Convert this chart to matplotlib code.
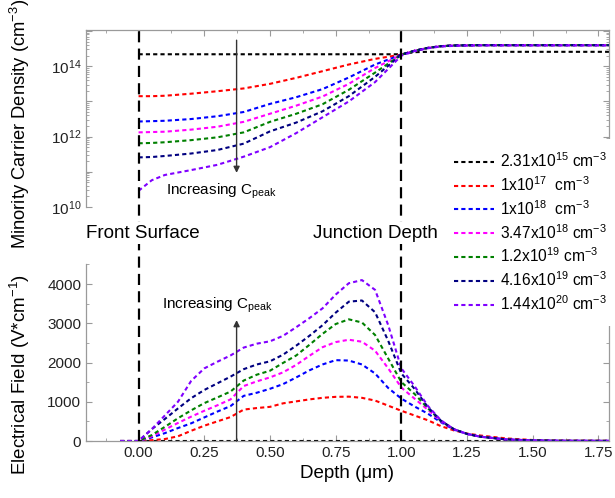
import matplotlib
matplotlib.use("Agg")
import matplotlib.pyplot as plt
from matplotlib.ticker import FixedLocator, FuncFormatter, MultipleLocator, NullFormatter
import numpy as np

plt.rcParams['font.family'] = ['Liberation Sans', 'DejaVu Sans']
plt.rcParams['mathtext.fontset'] = 'custom'
plt.rcParams['mathtext.rm'] = 'Liberation Sans'
plt.rcParams['mathtext.it'] = 'Liberation Sans:italic'
plt.rcParams['mathtext.default'] = 'regular'

# ---------------- data ----------------
labels = [r'2.31x10$^{15}$ cm$^{-3}$', r'1x10$^{17}$  cm$^{-3}$', r'1x10$^{18}$  cm$^{-3}$',
          r'3.47x10$^{18}$ cm$^{-3}$', r'1.2x10$^{19}$ cm$^{-3}$', r'4.16x10$^{19}$ cm$^{-3}$',
          r'1.44x10$^{20}$ cm$^{-3}$']
colors = ['black', '#ff0000', '#0000ff', '#ff00ff', '#008000', '#000080', '#8000ff']

# top panel: minority carrier density (cm^-3)
depth_top = [0, 0.05, 0.1, 0.2, 0.3, 0.4, 0.5, 0.6, 0.7, 0.8, 0.9, 1.0,
             1.05, 1.1, 1.15, 1.2, 1.3, 1.5, 1.79]
dens_black = [2.19e14, 2.19e14, 2.19e14, 2.19e14, 2.19e14, 2.19e14, 2.19e14, 2.19e14, 2.19e14,
              2.19e14, 2.19e14, 2.19e14, 2.51e14, 2.57e14, 2.57e14, 2.57e14, 2.57e14, 2.57e14, 2.57e14]
dens_red = [1.41e13, 1.41e13, 1.45e13, 1.66e13, 1.95e13, 2.34e13, 3.16e13, 4.68e13, 7.24e13,
            1.12e14, 1.62e14, 2.14e14, 2.75e14, 3.31e14, 3.72e14, 3.89e14, 3.98e14, 3.98e14, 3.98e14]
dens_blue = [2.69e12, 2.75e12, 2.82e12, 3.16e12, 3.80e12, 5.01e12, 8.51e12, 1.32e13, 2.24e13,
             4.79e13, 1.12e14, 2.14e14, 2.75e14, 3.31e14, 3.72e14, 3.89e14, 3.98e14, 3.98e14, 3.98e14]
dens_magenta = [1.32e12, 1.35e12, 1.38e12, 1.58e12, 1.91e12, 2.63e12, 4.47e12, 7.59e12, 1.38e13,
                3.16e13, 8.91e13, 2.14e14, 2.75e14, 3.31e14, 3.72e14, 3.89e14, 3.98e14, 3.98e14, 3.98e14]
dens_green = [6.46e11, 6.61e11, 6.92e11, 7.94e11, 9.55e11, 1.32e12, 2.63e12, 4.47e12, 8.32e12,
              2.14e13, 6.61e13, 2.14e14, 2.75e14, 3.31e14, 3.72e14, 3.89e14, 3.98e14, 3.98e14, 3.98e14]
dens_navy = [2.57e11, 2.63e11, 2.82e11, 3.31e11, 4.17e11, 6.31e11, 1.41e12, 2.51e12, 5.25e12,
             1.41e13, 5.01e13, 2.14e14, 2.75e14, 3.31e14, 3.72e14, 3.89e14, 3.98e14, 3.98e14, 3.98e14]
dens_purple = [2.88e10, 5.75e10, 8.13e10, 1.12e11, 1.58e11, 2.69e11, 5.01e11, 1.26e12, 3.55e12,
               1.00e13, 3.55e13, 2.00e14, 2.69e14, 3.24e14, 3.63e14, 3.80e14, 3.89e14, 3.89e14, 3.89e14]
dens_all = [dens_black, dens_red, dens_blue, dens_magenta, dens_green, dens_navy, dens_purple]

# bottom panel: electric field (V/cm)
depth_bot = [-0.07, 0, 0.05, 0.1, 0.15, 0.2, 0.25, 0.3, 0.35, 0.4, 0.45, 0.5, 0.55, 0.6, 0.65, 0.7,
             0.75, 0.8, 0.85, 0.9, 0.95, 1.0, 1.05, 1.1, 1.15, 1.2, 1.25, 1.3, 1.4, 1.5, 1.6, 1.79]
ef_black = [np.nan, 10, 10, 10, 10, 10, 10, 10, 10, 10, 10, 10, 10, 10, 10, 10,
            10, 10, 10, 10, 10, 10, 10, 10, 10, 10, 10, 10, 10, 10, 10, 10]
ef_red = [0, 0, 20, 50, 120, 260, 390, 500, 610, 800, 840, 870, 960, 1010, 1060, 1100,
          1125, 1130, 1100, 1030, 900, 770, 650, 530, 380, 270, 190, 140, 65, 25, 10, 5]
ef_blue = [0, 0, 90, 200, 330, 450, 600, 750, 890, 1150, 1230, 1330, 1450, 1620, 1800, 1950,
           2060, 2050, 1950, 1720, 1350, 1080, 880, 700, 480, 290, 180, 110, 40, 15, 6, 3]
ef_magenta = [0, 0, 120, 290, 460, 620, 770, 910, 1060, 1400, 1520, 1620, 1750, 1940, 2170, 2390,
              2520, 2580, 2530, 2300, 1850, 1360, 1080, 800, 500, 300, 180, 110, 40, 15, 6, 3]
ef_green = [0, 0, 150, 360, 580, 780, 965, 1110, 1260, 1540, 1690, 1790, 1990, 2180, 2450, 2730,
            2980, 3100, 3020, 2700, 2100, 1500, 1200, 840, 510, 300, 180, 110, 40, 15, 6, 3]
ef_navy = [0, 0, 300, 560, 830, 1090, 1300, 1470, 1640, 1830, 1950, 2030, 2200, 2430, 2680, 2950,
           3270, 3550, 3580, 3280, 2550, 1720, 1330, 870, 520, 300, 180, 110, 40, 15, 6, 3]
ef_purple = [0, 0, 300, 650, 1000, 1530, 1850, 2020, 2180, 2380, 2480, 2540, 2680, 2900, 3130, 3380,
             3730, 4020, 4100, 3850, 2950, 1850, 1400, 900, 530, 300, 180, 110, 40, 15, 6, 3]
ef_all = [ef_black, ef_red, ef_blue, ef_magenta, ef_green, ef_navy, ef_purple]

xticks = [0.00, 0.25, 0.50, 0.75, 1.00, 1.25, 1.50, 1.75]

# ---------------- figure ----------------
W, H = 615, 498
fig = plt.figure(figsize=(W / 100, H / 100), dpi=100)
L, R = 86, 609
ax1 = fig.add_axes([L / W, 1 - 207 / H, (R - L) / W, 177 / H])
ax2 = fig.add_axes([L / W, 1 - 441 / H, (R - L) / W, 177 / H])

spine_col = '#9a9a9a'
dash = (2.0, 1.5)
lw = 1.5

handles = []
for dens, ef, c, lab in zip(dens_all, ef_all, colors, labels):
    h, = ax1.plot(depth_top, dens, color=c, lw=lw, dashes=dash, label=lab)
    ax2.plot(depth_bot, ef, color=c, lw=lw, dashes=dash)
    handles.append(h)

for ax in (ax1, ax2):
    ax.set_xlim(-0.2, 1.79)
    for s in ax.spines.values():
        s.set_color(spine_col)
        s.set_linewidth(0.9)
    ax.tick_params(which='both', direction='in', color=spine_col, labelsize=11,
                   labelcolor='#222222')
    ax.tick_params(which='major', length=4.5)
    ax.tick_params(which='minor', length=2.5)
    ax.xaxis.set_major_locator(FixedLocator(xticks))
    ax.xaxis.set_minor_locator(MultipleLocator(0.125))

# top panel
ax1.set_yscale('log')
ax1.set_ylim(1e10, 10 ** 15.03)
ax1.spines['bottom'].set_visible(False)
ax1.tick_params(which='both', bottom=False, labelbottom=False, top=True, right=True, left=True)
ax1.yaxis.set_major_locator(FixedLocator([1e10, 1e11, 1e12, 1e13, 1e14, 1e15]))
ax1.yaxis.set_major_formatter(FuncFormatter(
    lambda v, p: (r'10$^{%d}$' % round(np.log10(v))) if round(np.log10(v)) in (10, 12, 14) else ''))
minors = [m * 10.0 ** e for e in range(10, 15) for m in range(2, 10)]
ax1.yaxis.set_minor_locator(FixedLocator(minors))
ax1.yaxis.set_minor_formatter(NullFormatter())

# bottom panel
ax2.set_ylim(0, 4510)
ax2.spines['top'].set_visible(False)
ax2.tick_params(which='both', top=False, right=True, bottom=True, left=True)
ax2.yaxis.set_major_locator(MultipleLocator(1000))
ax2.yaxis.set_minor_locator(MultipleLocator(500))
ax2.xaxis.set_major_formatter(FuncFormatter(lambda v, p: '%.2f' % v))
ax2.set_xlabel('Depth (μm)', fontsize=13.5, labelpad=4)

# vertical dashed markers spanning both panels
ymax_frac = (441 - 30) / 177
for xv in (0.0, 1.0):
    ax2.axvline(xv, ymin=0, ymax=ymax_frac, color='black', lw=1.6, dashes=(5, 2.8),
                clip_on=False, zorder=4)

# annotations
ax1.annotate('', xy=(0.373, 10 ** 10.97), xytext=(0.373, 10 ** 14.74),
             arrowprops=dict(arrowstyle='-|>', color='#333333', lw=1.0, mutation_scale=9,
                             shrinkA=0, shrinkB=0))
ax1.text(0.106, 10 ** 10.45, r'Increasing C$_{peak}$', fontsize=11, va='center', ha='left')
ax2.annotate('', xy=(0.373, 3080), xytext=(0.373, 0),
             arrowprops=dict(arrowstyle='-|>', color='#333333', lw=1.0, mutation_scale=9,
                             shrinkA=0, shrinkB=0))
ax2.text(0.091, 3465, r'Increasing C$_{peak}$', fontsize=11, va='center', ha='left')

wb = dict(facecolor='white', edgecolor='none', pad=1.5)
fig.text(86 / W, 1 - 233 / H, 'Front Surface', fontsize=13.5, va='center', ha='left', bbox=wb)
fig.text(313 / W, 1 - 233 / H, 'Junction Depth', fontsize=13.5, va='center', ha='left', bbox=wb)

fig.text(20 / W, 1 - 124 / H, r'Minority Carrier Density (cm$^{-3}$)', fontsize=13.2,
         rotation=90, va='center', ha='center')
fig.text(20 / W, 1 - 375 / H, r'Electrical Field (V*cm$^{-1}$)', fontsize=13.5,
         rotation=90, va='center', ha='center')

leg = fig.legend(handles=handles, loc='upper left', bbox_to_anchor=(442 / W, 1 - 139 / H),
                 fontsize=11.2, frameon=True, facecolor='white', edgecolor='none', framealpha=1,
                 fancybox=False, borderpad=0.8, borderaxespad=0, handlelength=2.55,
                 handletextpad=0.35, labelspacing=0.33)

fig.savefig('out.png', dpi=100)
